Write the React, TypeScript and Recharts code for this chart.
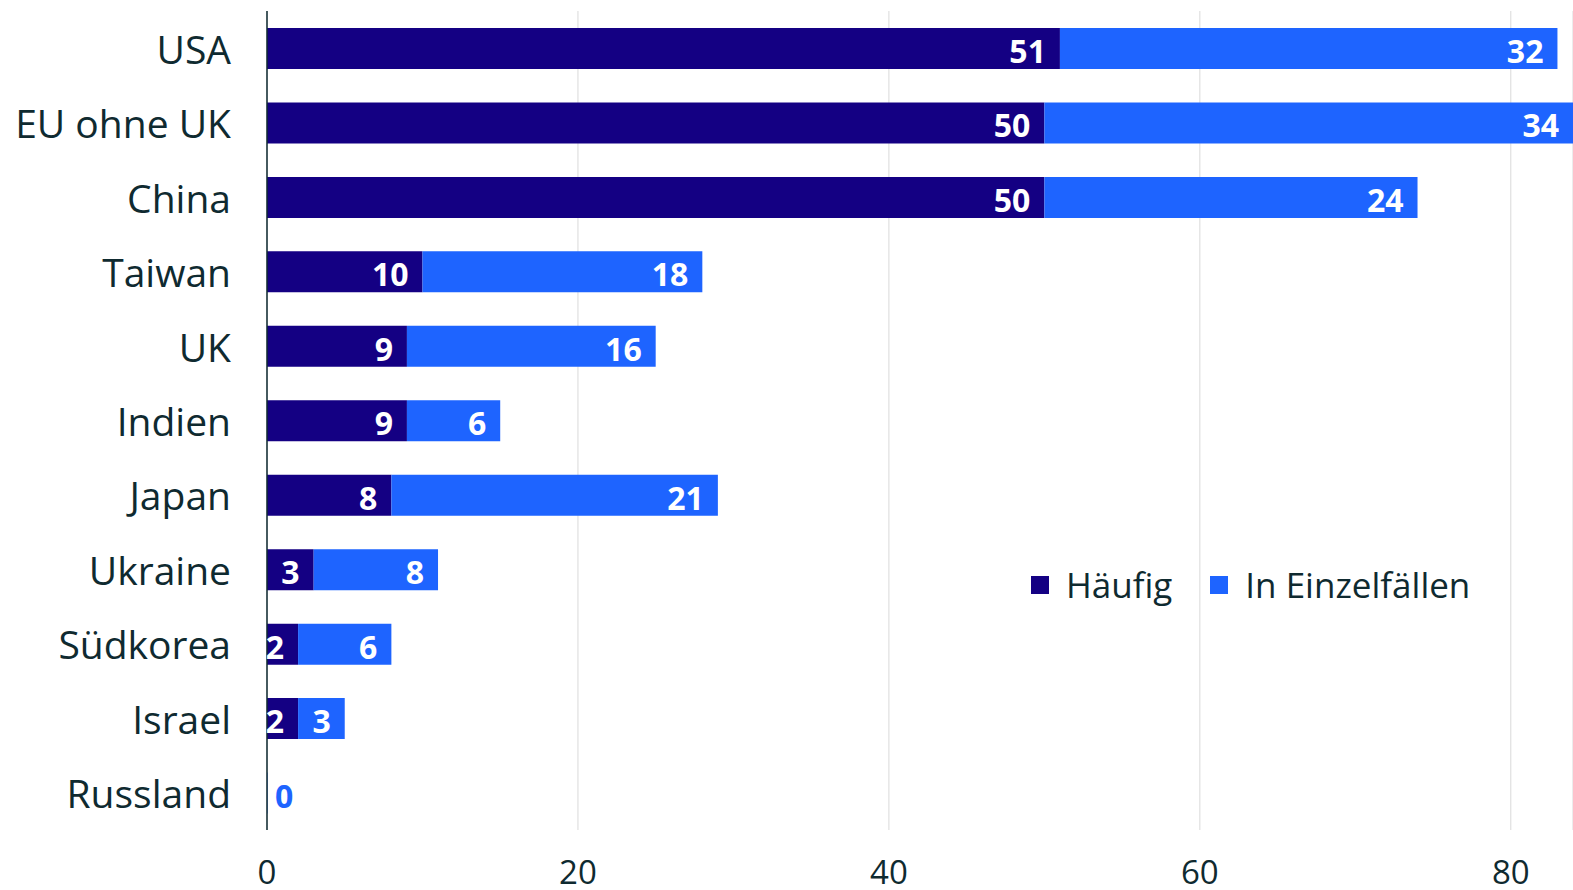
import React from 'react';
import { BarChart, Bar, XAxis, YAxis, CartesianGrid, Legend, LabelList } from 'recharts';

// Categories and series values
const countries = ['USA', 'EU ohne UK', 'China', 'Taiwan', 'UK', 'Indien', 'Japan', 'Ukraine', 'Südkorea', 'Israel', 'Russland'];
const haeufig = [51, 50, 50, 10, 9, 9, 8, 3, 2, 2, 0];
const einzelfaelle = [32, 34, 24, 18, 16, 6, 21, 8, 6, 3, 0];
const xTicks = [0, 20, 40, 60, 80];

const DARK = '#140083';
const BLUE = '#1e64ff';
const TEXT = '#0f2a30';
const FONT = '"Open Sans", sans-serif';

const data = countries.map((name, i) => ({
  name,
  haeufig: haeufig[i],
  einzel: einzelfaelle[i],
}));

const makeLabel = (zeroColor: string | null) => (props: any) => {
  const { x, y, width, height, value } = props;
  if (Number(value) === 0) {
    if (!zeroColor) return null;
    return (
      <text x={x + 8} y={y + height / 2 + 2} fill={zeroColor} fontSize={32} fontWeight={700}
        fontFamily={FONT} textAnchor="start" dominantBaseline="central">
        0
      </text>
    );
  }
  return (
    <text x={x + width - 14} y={y + height / 2 + 2} fill="#fff" fontSize={32} fontWeight={700}
      fontFamily={FONT} textAnchor="end" dominantBaseline="central">
      {value}
    </text>
  );
};

const CategoryTick = ({ x, y, payload }: any) => (
  <text x={x - 28} y={y} fill={TEXT} fontSize={39} fontFamily={FONT} textAnchor="end" dominantBaseline="central">
    {payload.value}
  </text>
);

const ValueTick = ({ x, y, payload }: any) => (
  <text x={x} y={y + 33} fill={TEXT} fontSize={33} fontFamily={FONT} textAnchor="middle" dominantBaseline="central">
    {payload.value}
  </text>
);

const LegendContent = ({ payload }: any) => (
  <div style={{ display: 'flex', alignItems: 'center', fontFamily: FONT, fontSize: 35, color: TEXT }}>
    {payload.map((p: any, i: number) => (
      <div key={i} style={{ display: 'flex', alignItems: 'center', marginRight: 38 }}>
        <span style={{ width: 18, height: 18, background: p.color, display: 'inline-block', marginRight: 17 }} />
        <span>{p.value}</span>
      </div>
    ))}
  </div>
);

export default function App() {
  return (
    <div style={{ position: 'absolute', left: 0, top: 0, background: '#fff' }}>
      <BarChart
        width={1573}
        height={890}
        data={data}
        layout="vertical"
        margin={{ top: 11, right: 0, left: 0, bottom: 0 }}
        barSize={41}
      >
        <CartesianGrid horizontal={false} stroke="#d9d9d9" />
        <XAxis
          type="number"
          domain={[0, 84]}
          ticks={xTicks}
          axisLine={false}
          tickLine={false}
          height={60}
          tick={<ValueTick />}
          interval={0}
        />
        <YAxis
          type="category"
          dataKey="name"
          width={267}
          axisLine={{ stroke: TEXT, strokeWidth: 1.5 }}
          tickLine={false}
          tick={<CategoryTick />}
          interval={0}
        />
        <Legend
          layout="horizontal"
          verticalAlign="middle"
          align="center"
          content={<LegendContent />}
          wrapperStyle={{ position: 'absolute', left: 1031, top: 561, width: 'auto' }}
        />
        <Bar dataKey="haeufig" name="Häufig" stackId="a" fill={DARK} isAnimationActive={false}>
          <LabelList dataKey="haeufig" content={makeLabel(null)} />
        </Bar>
        <Bar
          dataKey="einzel"
          name="In Einzelfällen"
          stackId="a"
          fill={BLUE}
          minPointSize={(v: any) => (Number(v) === 0 ? 0.5 : 0)}
          isAnimationActive={false}
        >
          <LabelList dataKey="einzel" content={makeLabel(BLUE)} />
        </Bar>
      </BarChart>
    </div>
  );
}
